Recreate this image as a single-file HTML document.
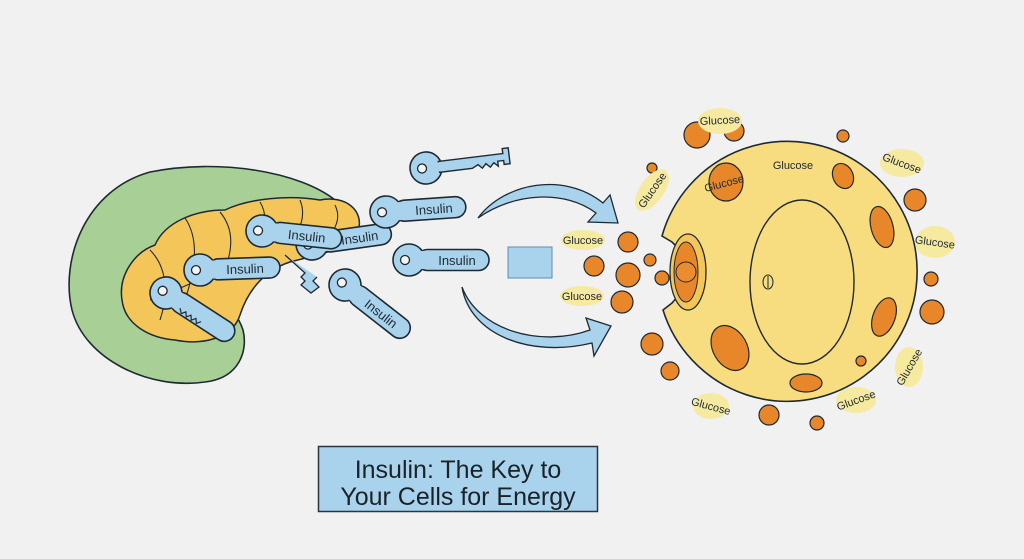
<!DOCTYPE html>
<html><head><meta charset="utf-8"><style>
html,body{margin:0;padding:0;background:#f1f1f1;}
svg{display:block;}
text{font-family:"Liberation Sans",sans-serif;}
</style></head><body>
<svg width="1024" height="559" viewBox="0 0 1024 559" xmlns="http://www.w3.org/2000/svg">
<defs>
<g id="key">
  <rect x="8" y="-10.5" width="72" height="21" rx="10.5" fill="#a9d3ec" stroke="#1e2a33" stroke-width="1.6"/>
  <circle cx="0" cy="0" r="16" fill="#a9d3ec" stroke="#1e2a33" stroke-width="1.6"/>
  <rect x="10" y="-9" width="13" height="18" fill="#a9d3ec"/>
  <circle cx="-4" cy="0" r="4.5" fill="#f4f4f4" stroke="#1e2a33" stroke-width="1.3"/>
</g>
</defs>
<rect width="1024" height="559" fill="#f1f1f1"/>

<path d="M335,200 C300,172 220,158 150,172 C85,190 60,260 72,310 C85,360 150,390 205,382 C240,378 248,350 243,330 C238,315 230,308 222,305 Z" fill="#a8cf95" stroke="#1e2a33" stroke-width="1.6"/>
<path d="M122,300 C118,275 135,252 155,245 C165,222 195,210 225,210 C250,198 290,195 320,200 C345,195 365,210 358,232 C350,250 315,255 290,262 C265,270 248,290 240,315 C232,340 200,345 175,340 C150,338 125,325 122,300 Z" fill="#f4c65a" stroke="#1e2a33" stroke-width="1.5"/>
<g fill="none" stroke="#1e2a33" stroke-width="1.1">
<path d="M150,250 C165,265 170,290 160,320"/>
<path d="M185,218 C200,240 195,270 185,300"/>
<path d="M220,212 C235,230 232,250 225,270"/>
<path d="M260,202 C268,215 265,228 258,240"/>
<path d="M300,200 C305,212 302,222 298,232"/>
<path d="M335,205 C340,215 338,225 330,235"/>
<path d="M150,300 C180,290 215,270 250,262"/>
</g>

<g transform="translate(166,293) rotate(33)"><use href="#key"/>
<path d="M20,5 l4,4 l3,-4 l3,4 l3,-4 l3,4 l3,-4 l3,4 l3,-4" fill="none" stroke="#1e2a33" stroke-width="1.2"/></g>
<g transform="translate(200,270) rotate(-2)"><use href="#key"/><text x="45" y="5" font-size="13" text-anchor="middle" fill="#1e2a33">Insulin</text></g>
<g transform="translate(312,244) rotate(-8)"><use href="#key"/><text x="48" y="5" font-size="13" text-anchor="middle" fill="#1e2a33">Insulin</text></g>
<path d="M285,255 l20,18 l-4,4 l4,4 l-4,4 l10,8 l8,-6 l-6,-6 l4,-4" fill="#a9d3ec" stroke="#1e2a33" stroke-width="1.3"/>
<g transform="translate(262,231) rotate(6)"><use href="#key"/><text x="45" y="5" font-size="13" text-anchor="middle" fill="#1e2a33">Insulin</text></g>

<g transform="translate(426,168) rotate(-7)">
<circle cx="0" cy="0" r="16" fill="#a9d3ec" stroke="#1e2a33" stroke-width="1.6"/>
<path d="M13,-5 L78,-5 L78,-10 L84,-10 L84,6 L78,6 L78,2 L72,2 L72,7 L68,3 L64,7 L60,3 L56,7 L52,3 L46,6 L13,6 Z" fill="#a9d3ec" stroke="#1e2a33" stroke-width="1.4"/>
<rect x="10" y="-4" width="8" height="9" fill="#a9d3ec"/>
<circle cx="-4" cy="0" r="4.5" fill="#f4f4f4" stroke="#1e2a33" stroke-width="1.3"/></g>
<g transform="translate(386,212) rotate(-4)"><use href="#key"/><text x="48" y="5" font-size="13" text-anchor="middle" fill="#1e2a33">Insulin</text></g>
<g transform="translate(409,260)"><use href="#key"/><text x="48" y="5" font-size="13" text-anchor="middle" fill="#1e2a33">Insulin</text></g>
<g transform="translate(345,285) rotate(38)"><use href="#key"/><text x="46" y="5" font-size="13" text-anchor="middle" fill="#1e2a33">Insulin</text></g>

<path d="M478,218 C505,182 565,172 603,203 L610,195 L618,223 L588,222 L596,213 C565,190 515,192 478,218 Z" fill="#a9d3ec" stroke="#1e2a33" stroke-width="1.3"/>
<path d="M462,287 C478,330 540,348 590,330 L586,318 L611,326 L594,356 L592,343 C530,358 470,335 462,287 Z" fill="#a9d3ec" stroke="#1e2a33" stroke-width="1.3"/>
<rect x="508" y="247" width="44" height="31" fill="#a9d3ec" stroke="#5a8db0" stroke-width="1"/>

<g font-size="11" fill="#1e2a33" text-anchor="middle">
<ellipse cx="583" cy="240" rx="22" ry="10" fill="#f6e9a0"/><text x="583" y="244">Glucose</text>
<ellipse cx="582" cy="296" rx="22" ry="10" fill="#f6e9a0"/><text x="582" y="300">Glucose</text>
</g>

<path d="M662,236 A130,130 0 1 1 663,310 L672,303 L678,296 L680,250 L672,242 Z" fill="#f8dc80" stroke="#1e2a33" stroke-width="1.6"/>
<ellipse cx="688" cy="272" rx="18" ry="38" fill="#f4c65a" stroke="#1e2a33" stroke-width="1.3"/>
<ellipse cx="686" cy="272" rx="12" ry="30" fill="#e8862a" stroke="#1e2a33" stroke-width="1"/>
<circle cx="686" cy="272" r="10" fill="#ec8c30" stroke="#1e2a33" stroke-width="1"/>
<ellipse cx="802" cy="282" rx="52" ry="82" fill="none" stroke="#1e2a33" stroke-width="1.4"/>
<ellipse cx="768" cy="282" rx="5" ry="7" fill="none" stroke="#1e2a33" stroke-width="1"/>
<line x1="768" y1="276" x2="768" y2="288" stroke="#1e2a33" stroke-width="1"/>

<g fill="#e8862a" stroke="#1e2a33" stroke-width="1.2">
<ellipse cx="726" cy="182" rx="17" ry="19"/>
<ellipse cx="843" cy="176" rx="10" ry="13" transform="rotate(-25 843 176)"/>
<ellipse cx="882" cy="227" rx="11" ry="21" transform="rotate(-15 882 227)"/>
<ellipse cx="884" cy="317" rx="11" ry="20" transform="rotate(20 884 317)"/>
<ellipse cx="730" cy="348" rx="17" ry="24" transform="rotate(-30 730 348)"/>
<ellipse cx="806" cy="383" rx="16" ry="9"/>
<circle cx="861" cy="361" r="5"/>
<circle cx="697" cy="135" r="13"/><circle cx="734" cy="131" r="10"/><circle cx="843" cy="136" r="6"/>
<circle cx="652" cy="168" r="5"/><circle cx="915" cy="200" r="11"/><circle cx="628" cy="242" r="10"/>
<circle cx="594" cy="266" r="10"/><circle cx="628" cy="275" r="12"/><circle cx="650" cy="260" r="6"/>
<circle cx="662" cy="278" r="7"/><circle cx="622" cy="302" r="11"/><circle cx="931" cy="279" r="7"/>
<circle cx="932" cy="312" r="12"/><circle cx="652" cy="344" r="11"/><circle cx="670" cy="371" r="9"/>
<circle cx="769" cy="415" r="10"/><circle cx="817" cy="423" r="7"/>
</g>

<g font-size="11" fill="#1e2a33" text-anchor="middle">
<ellipse cx="720" cy="121" rx="22" ry="13" fill="#f6e9a0"/><text x="720" y="124" transform="rotate(-3 720 121)">Glucose</text>
<text x="793" y="169">Glucose</text>
<text x="724" y="187" transform="rotate(-15 724 183)">Glucose</text>
<ellipse cx="652" cy="190" rx="12" ry="24" fill="#f6e9a0" transform="rotate(35 652 190)"/><text x="652" y="194" transform="rotate(-55 652 190)">Glucose</text>
<ellipse cx="902" cy="163" rx="22" ry="14" fill="#f6e9a0"/><text x="902" y="167" transform="rotate(20 902 163)">Glucose</text>
<ellipse cx="935" cy="242" rx="20" ry="16" fill="#f6e9a0"/><text x="935" y="246" transform="rotate(8 935 242)">Glucose</text>
<ellipse cx="909" cy="367" rx="14" ry="20" fill="#f6e9a0"/><text x="909" y="371" transform="rotate(-60 909 367)">Glucose</text>
<ellipse cx="711" cy="406" rx="18" ry="13" fill="#f6e9a0"/><text x="711" y="410" transform="rotate(15 711 406)">Glucose</text>
<ellipse cx="856" cy="400" rx="20" ry="13" fill="#f6e9a0"/><text x="856" y="404" transform="rotate(-20 856 400)">Glucose</text>
</g>

<rect x="318.5" y="446.5" width="279" height="65" fill="#a9d3ec" stroke="#2a3540" stroke-width="1.5"/>
<text x="458" y="478" font-size="25" text-anchor="middle" fill="#1a2228">Insulin: The Key to</text>
<text x="458" y="505" font-size="25" text-anchor="middle" fill="#1a2228">Your Cells for Energy</text>
</svg>
</body></html>
